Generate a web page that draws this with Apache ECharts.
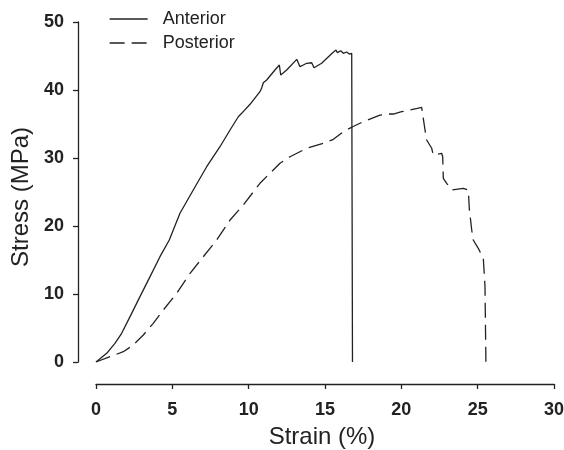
<!DOCTYPE html>
<html>
<head>
<meta charset="utf-8">
<script src="https://cdn.jsdelivr.net/npm/echarts@6/dist/echarts.min.js"></script>
<style>html,body{margin:0;padding:0;background:#fff}#c{width:564px;height:450px}</style>
</head>
<body>
<div id="c"></div>
<script>
const xTicks = [0, 5, 10, 15, 20, 25, 30];
const yTicks = [0, 10, 20, 30, 40, 50];
const seriesNames = ['Anterior', 'Posterior'];

const anteriorStrain = [0, 0.7, 1.24, 1.68, 2.23, 2.88, 3.54, 4.19, 4.8, 5.5, 6.37, 7.25, 8.12, 8.78, 9.32, 9.54, 10.09, 10.74, 10.85, 10.96, 11.18, 11.72, 12.01, 12.1, 12.49, 13.15, 13.36, 13.58, 13.8, 14.13, 14.28, 14.78, 15.5, 15.72, 15.81, 16.03, 16.2, 16.42, 16.59, 16.75, 16.8];
const anteriorStress = [0, 1.28, 2.75, 4.22, 6.67, 9.61, 12.55, 15.49, 17.94, 21.87, 25.29, 28.72, 31.66, 34.12, 36.07, 36.57, 37.9, 39.75, 40.3, 41.07, 41.47, 42.94, 43.68, 42.21, 42.94, 44.51, 43.43, 43.68, 43.93, 44.01, 43.28, 43.93, 45.49, 45.88, 45.49, 45.78, 45.4, 45.59, 45.29, 45.4, 0];

const posteriorStrain = [0, 0.92, 1.79, 2.44, 3.1, 3.75, 4.41, 5.28, 6.16, 7.9, 8.78, 9.65, 10.74, 12.05, 12.71, 13.8, 14.89, 15.55, 16.2, 16.81, 17.51, 18.06, 18.6, 19.15, 19.48, 20.02, 20.57, 21.05, 21.33, 21.44, 21.55, 21.66, 21.99, 22.09, 22.64, 22.71, 22.75, 22.97, 23.3, 24.06, 24.39, 24.45, 24.61, 24.71, 25.04, 25.26, 25.37, 25.48, 25.54];
const posteriorStress = [0, 0.78, 1.51, 2.5, 3.97, 5.69, 7.65, 10.1, 13.04, 17.94, 20.88, 23.09, 26.28, 29.22, 30.19, 31.43, 32.16, 32.75, 33.87, 34.6, 35.34, 35.84, 36.32, 36.47, 36.47, 36.81, 37.06, 37.31, 37.46, 37.31, 34.12, 32.65, 31.43, 30.44, 30.69, 30.19, 27.01, 26.28, 25.29, 25.54, 25.29, 22.6, 19.41, 17.94, 16.72, 15.74, 15.25, 11.07, 0];

const pair = (xs, ys) => xs.map((x, i) => [x, ys[i]]);
const ink = '#222';
const font = 'Liberation Sans, Arial, sans-serif';
const dash = [15, 7];

const chart = echarts.init(document.getElementById('c'));
chart.setOption({
  animation: false,
  textStyle: { fontFamily: font, color: ink },
  grid: { left: 96, right: 10, top: 22, bottom: 88, outerBoundsMode: 'none', containLabel: false },
  legend: {
    orient: 'vertical', left: 104, top: 5, itemWidth: 38, itemHeight: 14, itemGap: 6,
    itemStyle: { opacity: 0 },
    textStyle: { fontSize: 18, color: ink, fontFamily: font, padding: [0, 0, 0, 10] },
    data: [
      { name: seriesNames[0], lineStyle: { color: ink, width: 1.3 } },
      { name: seriesNames[1], lineStyle: { color: ink, width: 1.3, type: dash } }
    ]
  },
  xAxis: {
    type: 'value', min: xTicks[0], max: xTicks[xTicks.length - 1], interval: 5,
    offset: 22,
    name: 'Strain (%)', nameLocation: 'middle', nameGap: 41,
    nameTextStyle: { fontSize: 24, color: ink, fontFamily: font, padding: [0, 6, 0, 0] },
    axisLine: { show: true, onZero: false, lineStyle: { color: ink, width: 1.3 } },
    axisTick: { show: true, length: 5, lineStyle: { color: ink, width: 1.3 } },
    axisLabel: { fontSize: 18, fontWeight: 'bold', color: ink, margin: 17, fontFamily: font },
    splitLine: { show: false }
  },
  yAxis: {
    type: 'value', min: yTicks[0], max: yTicks[yTicks.length - 1], interval: 10,
    offset: 18,
    name: 'Stress (MPa)', nameLocation: 'middle', nameGap: 44,
    nameTextStyle: { fontSize: 24, color: ink, fontFamily: font, padding: [0, 10, 0, 0] },
    axisLine: { show: true, onZero: false, lineStyle: { color: ink, width: 1.3 } },
    axisTick: { show: true, length: 5, lineStyle: { color: ink, width: 1.3 } },
    axisLabel: { fontSize: 18, fontWeight: 'bold', color: ink, margin: 14, fontFamily: font },
    splitLine: { show: false }
  },
  series: [
    {
      name: seriesNames[0], type: 'line', showSymbol: false, symbol: 'none',
      data: pair(anteriorStrain, anteriorStress),
      lineStyle: { color: ink, width: 1.3 }, itemStyle: { color: ink }
    },
    {
      name: seriesNames[1], type: 'line', showSymbol: false, symbol: 'none',
      data: pair(posteriorStrain, posteriorStress),
      lineStyle: { color: ink, width: 1.3, type: dash }, itemStyle: { color: ink }
    }
  ]
});
</script>
</body>
</html>
